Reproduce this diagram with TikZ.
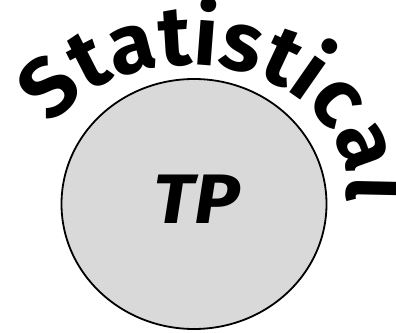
\documentclass[tikz,border=0pt]{standalone}
\usepackage{fontspec}
\setsansfont{Fira Sans}
\newfontfamily\tpfont[FakeStretch=1.1]{Fira Sans}
\definecolor{discfill}{HTML}{D9D9D9}
\usetikzlibrary{shapes.geometric,decorations.text,calc}
\tikzset{
  disc/.style={ellipse,draw=black,line width=1.8pt,fill=discfill,inner sep=0pt},
  bigtxt/.style={font=\tpfont\bfseries\itshape\fontsize{70}{70}\selectfont},
}

\begin{document}
\begin{tikzpicture}[x=1pt,y=1pt]
\useasboundingbox (0,0) rectangle (396,332);
\node[disc,minimum width=265pt,minimum height=250pt] (tpdisc) at (194,128) {};
\node[bigtxt] (tp) at (197,133) {TP};
\coordinate (archc) at (189,145);
% baseline of the arched word is an elliptic arc
\path[decorate,decoration={text along path,text align=left,
  text={|\sffamily\bfseries\fontsize{84}{84}\selectfont|Statistical}}]
  ($(archc)+(150:158 and 122)$) arc[start angle=150,end angle=-20,x radius=158,y radius=122];
\end{tikzpicture}
\end{document}
